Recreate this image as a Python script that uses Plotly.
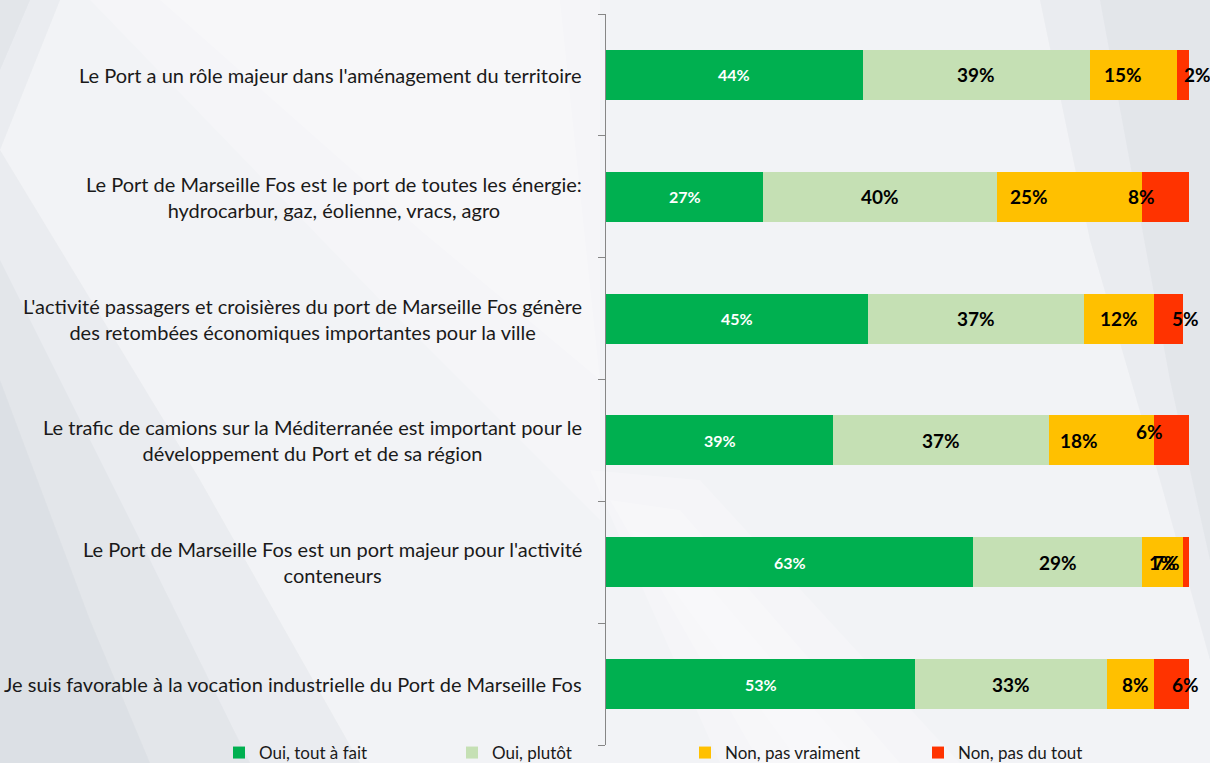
import plotly.graph_objects as go

categories = [
    "Le Port a un rôle majeur dans l'aménagement du territoire",
    "Le Port de Marseille Fos est le port de toutes les énergie:<br>hydrocarbur, gaz, éolienne, vracs, agro",
    "L'activité passagers et croisières du port de Marseille Fos génère<br>des retombées économiques importantes pour la ville",
    "Le trafic de camions sur la Méditerranée est important pour le<br>développement du Port et de sa région",
    "Le Port de Marseille Fos est un port majeur pour l'activité<br>conteneurs",
    "Je suis favorable à la vocation industrielle du Port de Marseille Fos",
]
series_names = ["Oui, tout à fait", "Oui, plutôt", "Non, pas vraiment", "Non, pas du tout"]
oui_tout_a_fait = [44, 27, 45, 39, 63, 53]
oui_plutot = [39, 40, 37, 37, 29, 33]
non_pas_vraiment = [15, 25, 12, 18, 7, 8]
non_pas_du_tout = [2, 8, 5, 6, 1, 6]

series_values = [oui_tout_a_fait, oui_plutot, non_pas_vraiment, non_pas_du_tout]
colors = ["#00B050", "#C5E0B4", "#FFC000", "#FF3300"]
label_colors = ["white", "black", "black", "black"]
label_sizes = [16, 19, 19, 19]
# manual label offsets (pixels) as positioned in the original chart
xshifts = [
    [0, 0, 0, 0, 0, 0],
    [0, 0, 0, 0, 0, 0],
    [-11, -40, 0, -23, 4, 5],
    [14, -24, 17, -22, -24, 14],
]
yshifts = [
    [0] * 6,
    [0] * 6,
    [0] * 6,
    [0, 0, 0, 9, 0, 0],
]

W, H = 1210, 763
L, R, T, B = 606, 21, 14, 18
PW, PH = W - L - R, H - T - B


def px(x):
    return (x - L) / PW


def py(y):
    return (H - B - y) / PH


def poly(points, color):
    d = "M" + " L".join(f"{px(x)},{py(y)}" for x, y in points) + " Z"
    return dict(type="path", xref="paper", yref="paper", layer="below",
                line=dict(width=0), fillcolor=color, path=d)


fig = go.Figure()
for name, vals, col in zip(series_names, series_values, colors):
    fig.add_trace(go.Bar(
        y=list(range(len(categories))), x=vals, name=name, orientation="h",
        marker=dict(color=col, line=dict(width=0)),
        hoverinfo="x+name",
    ))

annotations = []
cum = [0] * len(categories)
for s, vals in enumerate(series_values):
    for i, v in enumerate(vals):
        annotations.append(dict(
            x=cum[i] + v / 2, y=i, xref="x", yref="y",
            text=f"{v}%", showarrow=False,
            xshift=xshifts[s][i], yshift=yshifts[s][i],
            font=dict(family="Lato", size=label_sizes[s], color=label_colors[s], weight="bold"),
        ))
        cum[i] += v

for i, c in enumerate(categories):
    annotations.append(dict(
        x=0, y=i, xref="paper", yref="y", xanchor="right", xshift=-22,
        text=c, showarrow=False, align="center",
        font=dict(family="Lato", size=20, color="#1a1a1a"),
    ))

grey = "rgba(170,178,190,0.10)"
white = "rgba(255,255,255,0.22)"
shapes = [
    # soft grey on the left side (layered for a gradient look)
    poly([(0, 0), (60, 0), (0, 150)], grey),
    poly([(0, 0), (30, 0), (0, 70)], grey),
    poly([(0, 150), (200, 480), (360, 763), (0, 763)], grey),
    poly([(0, 260), (150, 560), (250, 763), (0, 763)], grey),
    poly([(0, 380), (90, 620), (150, 763), (0, 763)], grey),
    # grey band on the right
    poly([(1040, 0), (1210, 0), (1210, 660), (1160, 480), (1090, 240)], grey),
    poly([(1100, 0), (1210, 0), (1210, 560), (1170, 380)], grey),
    # light streaks
    poly([(90, 0), (600, 0), (600, 520), (380, 300)], white),
    poly([(160, 0), (560, 0), (600, 380), (420, 230)], white),
    poly([(590, 470), (700, 480), (960, 763), (720, 763)], white),
    poly([(610, 500), (680, 510), (900, 763), (760, 763)], white),
    poly([(630, 530), (670, 540), (860, 763), (800, 763)], white),
]

fig.update_layout(
    width=W, height=H,
    margin=dict(l=L, r=R, t=T, b=B, pad=0, autoexpand=False),
    barmode="stack", bargap=0.59,
    paper_bgcolor="#f2f3f6", plot_bgcolor="rgba(0,0,0,0)",
    font=dict(family="Lato", color="#1a1a1a"),
    showlegend=True,
    legend=dict(orientation="h", x=px(219), xanchor="left", y=py(753), yanchor="middle",
                entrywidth=188, entrywidthmode="pixels", bgcolor="rgba(0,0,0,0)",
                font=dict(family="Lato", size=17, color="#1a1a1a"), traceorder="normal",
                itemclick=False, itemdoubleclick=False),
    xaxis=dict(range=[0, 100], visible=False, fixedrange=True),
    yaxis=dict(range=[5.5, -0.5], showticklabels=False, showgrid=False, zeroline=False,
               showline=True, linecolor="#868686", linewidth=1,
               ticks="outside", ticklen=7, tickcolor="#868686",
               type="linear", tickmode="array", tickvals=[-0.5, 0.5, 1.5, 2.5, 3.5, 4.5, 5.5],
               fixedrange=True),
    annotations=annotations, shapes=shapes,
)

fig.write_html("out.html", config={"displayModeBar": False},
               post_script="document.body.style.margin='0';document.body.style.overflow='hidden';")
